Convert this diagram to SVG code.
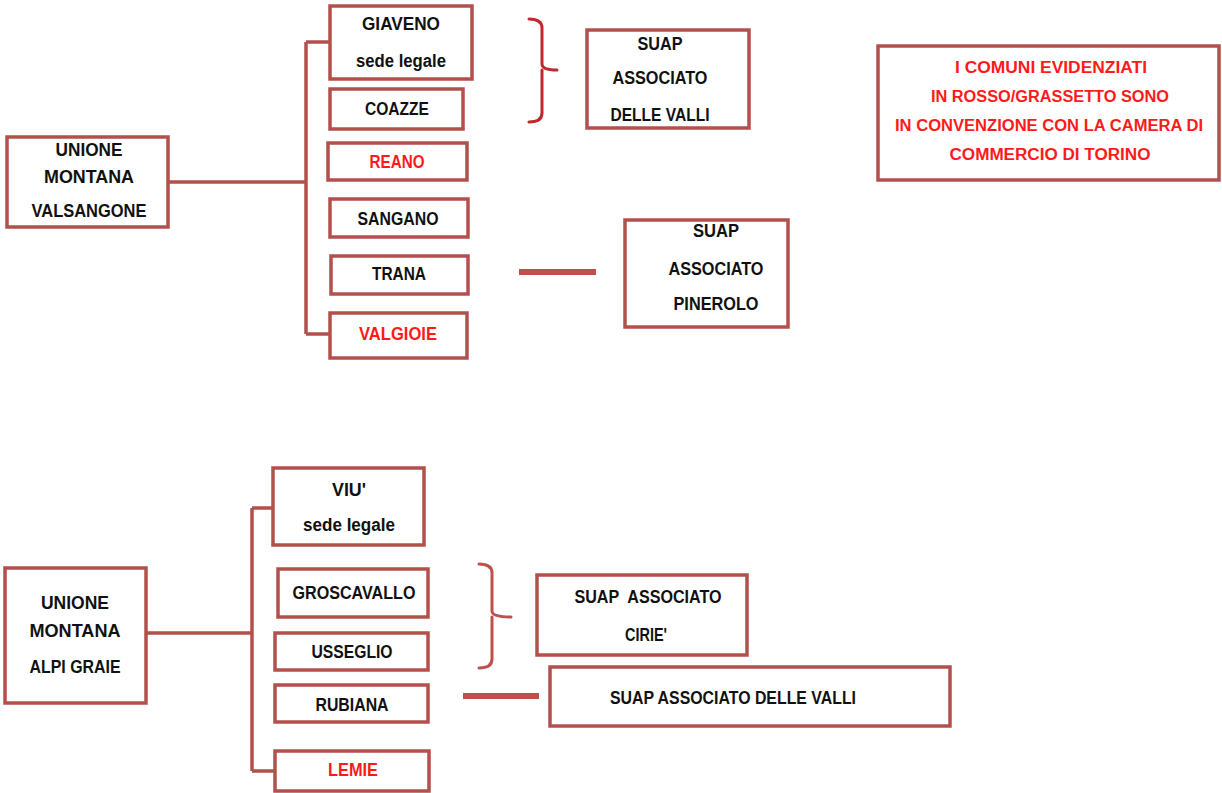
<svg xmlns="http://www.w3.org/2000/svg" width="1222" height="793" viewBox="0 0 1222 793">
<style>
.box{fill:#fff;stroke:#b3504c;stroke-width:3.5}
.ln{fill:none;stroke:#b3504c;stroke-width:3.5}
.dash{fill:none;stroke:#c0504d;stroke-width:6}
.br{fill:none;stroke-width:3;stroke-linecap:round;stroke-linejoin:round}
text{font-family:"Liberation Sans",Arial,sans-serif;font-weight:bold;font-size:18px;fill:#111;text-anchor:middle}
.red{fill:#ff1a1a}
.note{font-size:16px}
</style>
<rect width="1222" height="793" fill="#fff"/>
<g id="connectors">
<path class="ln" d="M168,182 H306 M306,42 V334 M306,42 H330 M306,334 H330"/>
<path class="ln" d="M146,633 H252 M252,508 V771 M252,508 H273 M252,771 H275"/>
<path class="dash" d="M519,272 H596"/>
<path class="dash" d="M463,696 H539"/>
<path class="br" stroke="#c0282d" d="M529,19 Q542,19 542,28 V64 Q542,70 557,70 M542,70 Q542,76 542,82 V113 Q542,122 529,122"/>
<path class="br" stroke="#c0504d" d="M479,564 Q492,564 492,573 V611 Q492,617 511,617 M492,617 V659 Q492,668 479,668"/>
</g>
<g id="n_valsangone"><rect class="box" x="7" y="137" width="161" height="90"/>
<text x="89" y="156" textLength="67" lengthAdjust="spacingAndGlyphs">UNIONE</text>
<text x="89" y="183" textLength="90" lengthAdjust="spacingAndGlyphs">MONTANA</text>
<text x="89" y="217" textLength="115" lengthAdjust="spacingAndGlyphs">VALSANGONE</text></g>
<g id="n_giaveno"><rect class="box" x="330" y="6" width="142" height="73"/>
<text x="401" y="30" textLength="78" lengthAdjust="spacingAndGlyphs">GIAVENO</text>
<text x="401" y="67" textLength="90" lengthAdjust="spacingAndGlyphs">sede legale</text></g>
<g id="n_coazze"><rect class="box" x="330" y="89" width="133" height="40"/>
<text x="397" y="115" textLength="64" lengthAdjust="spacingAndGlyphs">COAZZE</text></g>
<g id="n_reano"><rect class="box" x="328" y="143" width="139" height="37"/>
<text class="red" x="397" y="168" textLength="55" lengthAdjust="spacingAndGlyphs">REANO</text></g>
<g id="n_sangano"><rect class="box" x="330" y="199" width="138" height="38"/>
<text x="398" y="225" textLength="81" lengthAdjust="spacingAndGlyphs">SANGANO</text></g>
<g id="n_trana"><rect class="box" x="331" y="256" width="137" height="38"/>
<text x="399" y="280" textLength="54" lengthAdjust="spacingAndGlyphs">TRANA</text></g>
<g id="n_valgioie"><rect class="box" x="330" y="313" width="137" height="45"/>
<text class="red" x="398" y="340" textLength="78" lengthAdjust="spacingAndGlyphs">VALGIOIE</text></g>
<g id="n_suap_valli1"><rect class="box" x="587" y="30" width="162" height="98"/>
<text x="660" y="50" textLength="45" lengthAdjust="spacingAndGlyphs">SUAP</text>
<text x="660" y="84" textLength="95" lengthAdjust="spacingAndGlyphs">ASSOCIATO</text>
<text x="660" y="121" textLength="99" lengthAdjust="spacingAndGlyphs">DELLE VALLI</text></g>
<g id="n_note"><rect class="box" x="878" y="46" width="341" height="134"/>
<text class="red note" x="1051" y="73" textLength="192" lengthAdjust="spacingAndGlyphs">I COMUNI EVIDENZIATI</text>
<text class="red note" x="1050" y="102" textLength="238" lengthAdjust="spacingAndGlyphs">IN ROSSO/GRASSETTO SONO</text>
<text class="red note" x="1049" y="131" textLength="308" lengthAdjust="spacingAndGlyphs">IN CONVENZIONE CON LA CAMERA DI</text>
<text class="red note" x="1050" y="160" textLength="201" lengthAdjust="spacingAndGlyphs">COMMERCIO DI TORINO</text></g>
<g id="n_suap_pinerolo"><rect class="box" x="625" y="220" width="163" height="107"/>
<text x="716" y="237" textLength="46" lengthAdjust="spacingAndGlyphs">SUAP</text>
<text x="716" y="275" textLength="95" lengthAdjust="spacingAndGlyphs">ASSOCIATO</text>
<text x="716" y="310" textLength="85" lengthAdjust="spacingAndGlyphs">PINEROLO</text></g>
<g id="n_alpigraie"><rect class="box" x="5" y="568" width="141" height="135"/>
<text x="75" y="609" textLength="68" lengthAdjust="spacingAndGlyphs">UNIONE</text>
<text x="75" y="637" textLength="91" lengthAdjust="spacingAndGlyphs">MONTANA</text>
<text x="75" y="673" textLength="91" lengthAdjust="spacingAndGlyphs">ALPI GRAIE</text></g>
<g id="n_viu"><rect class="box" x="273" y="468" width="151" height="77"/>
<text x="349" y="496" textLength="34" lengthAdjust="spacingAndGlyphs">VIU'</text>
<text x="349" y="531" textLength="92" lengthAdjust="spacingAndGlyphs">sede legale</text></g>
<g id="n_groscavallo"><rect class="box" x="278" y="569" width="150" height="48"/>
<text x="354" y="599" textLength="123" lengthAdjust="spacingAndGlyphs">GROSCAVALLO</text></g>
<g id="n_usseglio"><rect class="box" x="275" y="633" width="153" height="37"/>
<text x="352" y="658" textLength="81" lengthAdjust="spacingAndGlyphs">USSEGLIO</text></g>
<g id="n_rubiana"><rect class="box" x="275" y="685" width="153" height="37"/>
<text x="352" y="711" textLength="73" lengthAdjust="spacingAndGlyphs">RUBIANA</text></g>
<g id="n_lemie"><rect class="box" x="275" y="751" width="154" height="40"/>
<text class="red" x="353" y="776" textLength="50" lengthAdjust="spacingAndGlyphs">LEMIE</text></g>
<g id="n_suap_cirie"><rect class="box" x="537" y="575" width="210" height="80"/>
<text x="648" y="603" textLength="147" lengthAdjust="spacingAndGlyphs" xml:space="preserve">SUAP  ASSOCIATO</text>
<text x="646" y="641" textLength="42" lengthAdjust="spacingAndGlyphs">CIRIE'</text></g>
<g id="n_suap_valli2"><rect class="box" x="550" y="667" width="400" height="59"/>
<text x="733" y="704" textLength="246" lengthAdjust="spacingAndGlyphs">SUAP ASSOCIATO DELLE VALLI</text></g>
</svg>
